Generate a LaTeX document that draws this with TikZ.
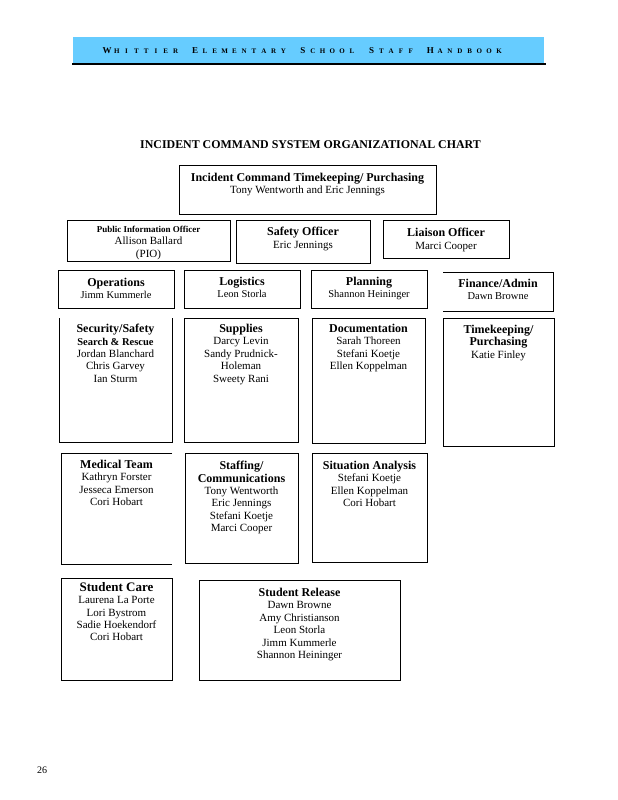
\documentclass[tikz,border=0pt]{standalone}
\usepackage{fontspec}
\setmainfont{Liberation Serif}
\definecolor{hdrblue}{RGB}{102,204,255}
\tikzset{
  frame/.style={draw=black, line width=0.8pt, inner sep=0pt, outer sep=0pt},
  noframe/.style={inner sep=0pt, outer sep=0pt},
  lbl/.style={inner sep=0pt, align=center, anchor=north, font=\fontsize{11}{12.4}\selectfont},
  edge/.style={draw=black, line width=0.8pt},
}
\newcommand\bt[1]{{\bfseries\fontsize{12}{12.4}\selectfont #1}}
\newcommand\hc[1]{{\fontsize{9}{9}\selectfont #1}}
\def\spacedout#1{\ifx#1\relax\else\makebox[9.8pt]{#1}\expandafter\spacedout\fi}
% #1 name, #2 x1, #3 y1, #4 x2, #5 y2, #6 style
\newcommand\chartbox[6]{\node[#6, minimum width={#4-#2}, minimum height={#5-#3}] (#1) at ({(#2+#4)/2},{(#3+#5)/2}) {};}
\begin{document}
\begin{tikzpicture}[x=1pt,y=-1pt]
\useasboundingbox (0,0) rectangle (618,800);
% header
\fill[hdrblue] (73,37) rectangle (544,63);
\draw[line width=2pt] (72,64.3) -- (545.5,64.3);
\node[inner sep=0pt, font=\bfseries\fontsize{7}{7}\selectfont] (hdr) at (303,50.5)
  {\spacedout{\hc W}HITTIER~{\hc E}LEMENTARY~{\hc S}CHOOL~{\hc S}TAFF~{\hc H}ANDBOOK\relax};
% title
\node[inner sep=0pt, font=\bfseries\fontsize{11.9}{13}\selectfont] (title) at (310.5,145)
  {INCIDENT COMMAND SYSTEM ORGANIZATIONAL CHART};
% boxes
\chartbox{ic}{179}{165}{436}{214}{frame}
\node[lbl] (ic-t) at ([yshift=-8pt]ic.north) {\bt{Incident Command Timekeeping/ Purchasing}\\Tony Wentworth and Eric Jennings};

\chartbox{pio}{67}{220}{230}{261}{frame}
\node[lbl] (pio-t) at ([yshift=-6pt]pio.north) {{\bfseries\fontsize{9}{10}\selectfont Public Information Officer}\\Allison Ballard\\(PIO)};

\chartbox{saf}{236}{220}{370}{263}{frame}
\node[lbl] (saf-t) at ([yshift=-7pt]saf.north) {\bt{Safety Officer}\\Eric Jennings};

\chartbox{lia}{383}{220}{509}{258}{frame}
\node[lbl] (lia-t) at ([yshift=-8pt]lia.north) {\bt{Liaison Officer}\\Marci Cooper};

\chartbox{ops}{58}{270}{174}{308}{frame}
\node[lbl] (ops-t) at ([yshift=-8pt]ops.north) {\bt{Operations}\\{\fontsize{10.5}{12.4}\selectfont Jimm Kummerle}};

\chartbox{log}{184}{270}{300}{308}{frame}
\node[lbl] (log-t) at ([yshift=-7pt]log.north) {\bt{Logistics}\\{\fontsize{10.5}{12.4}\selectfont Leon Storla}};

\chartbox{pla}{311}{270}{427}{308}{frame}
\node[lbl] (pla-t) at ([yshift=-7pt]pla.north) {\bt{Planning}\\{\fontsize{10.5}{12.4}\selectfont Shannon Heininger}};

\chartbox{fin}{443}{272}{553}{311}{noframe}
\draw[edge] (fin.north west) -- (fin.north east) -- (fin.south east) -- (fin.south west);
\node[lbl] (fin-t) at ([yshift=-7pt]fin.north) {\bt{Finance/Admin}\\{\fontsize{10.5}{12.4}\selectfont Dawn Browne}};

\chartbox{sec}{59}{318}{172}{442}{noframe}
\draw[edge] (sec.north west) -- (sec.south west) -- (sec.south east) -- (sec.north east);
\node[lbl] (sec-t) at ([yshift=-6pt]sec.north) {\bt{Security/Safety}\\{\bfseries\fontsize{10.5}{12.4}\selectfont Search \& Rescue}\\Jordan Blanchard\\Chris Garvey\\Ian Sturm};

\chartbox{sup}{184}{318}{298}{442}{frame}
\node[lbl] (sup-t) at ([yshift=-6pt]sup.north) {\bt{Supplies}\\Darcy Levin\\Sandy Prudnick-\\Holeman\\Sweety Rani};

\chartbox{doc}{312}{318}{425}{443}{frame}
\node[lbl] (doc-t) at ([yshift=-6pt]doc.north) {\bt{Documentation}\\Sarah Thoreen\\Stefani Koetje\\Ellen Koppelman};

\chartbox{tim}{443}{318}{554}{446}{frame}
\node[lbl] (tim-t) at ([yshift=-7pt]tim.north) {\bt{Timekeeping/}\\\bt{Purchasing}\\Katie Finley};

\chartbox{med}{61}{453}{172}{564}{noframe}
\draw[edge] (med.north east) -- (med.north west) -- (med.south west) -- (med.south east);
\node[lbl] (med-t) at ([yshift=-7pt]med.north) {\bt{Medical Team}\\Kathryn Forster\\Jesseca Emerson\\Cori Hobart};

\chartbox{sta}{185}{453}{298}{563}{frame}
\node[lbl] (sta-t) at ([yshift=-8pt]sta.north) {\bt{Staffing/}\\\bt{Communications}\\Tony Wentworth\\Eric Jennings\\Stefani Koetje\\Marci Cooper};

\chartbox{sit}{312}{453}{427}{562}{frame}
\node[lbl] (sit-t) at ([yshift=-8pt]sit.north) {\bt{Situation Analysis}\\Stefani Koetje\\Ellen Koppelman\\Cori Hobart};

\chartbox{car}{61}{578}{172}{680}{frame}
\node[lbl] (car-t) at ([yshift=-4pt]car.north) {{\bfseries\fontsize{13}{12.4}\selectfont Student Care}\\Laurena La Porte\\Lori Bystrom\\Sadie Hoekendorf\\Cori Hobart};

\chartbox{rel}{199}{580}{400}{680}{frame}
\node[lbl] (rel-t) at ([yshift=-8pt]rel.north) {\bt{Student Release}\\Dawn Browne\\Amy Christianson\\Leon Storla\\Jimm Kummerle\\Shannon Heininger};

% page number
\node[inner sep=0pt, font=\fontsize{10}{11}\selectfont] (pg) at (42,770) {26};
\end{tikzpicture}
\end{document}
